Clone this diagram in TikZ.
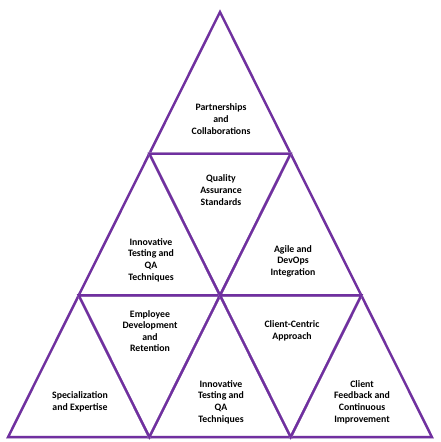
\documentclass[tikz,border=0pt]{standalone}
\usepackage{fontspec}
\setmainfont{Carlito}
\usetikzlibrary{calc}
\definecolor{tripurple}{HTML}{7030A0}

\begin{document}
\begin{tikzpicture}[
    x=1pt, y=-1pt,
    tri/.style={
        draw=tripurple,
        line width=2.4pt,
        line join=miter
    },
    trishadow/.style={
        draw=black!15,
        line width=2.4pt,
        xshift=1.6pt,
        yshift=-1.6pt
    },
    lbl/.style={
        font=\fontsize{9.8}{11.6}\selectfont\bfseries,
        align=center,
        inner sep=0pt
    }
]
\useasboundingbox (0,0) rectangle (440,442);

% Grid vertices: row r, position i
\foreach \r in {0,...,3} {
    \foreach \i in {0,...,\r} {
        \coordinate (v-\r-\i) at ({220+(\i-\r/2)*141.3}, {12+\r*141.7});
    }
}

% Upward triangles
\foreach \r in {0,1,2} {
    \pgfmathtruncatemacro{\rn}{\r+1}
    \foreach \i in {0,...,\r} {
        \pgfmathtruncatemacro{\in}{\i+1}
        \draw[trishadow] (v-\r-\i) -- (v-\rn-\i) -- (v-\rn-\in) -- cycle;
        \draw[tri] (v-\r-\i) -- (v-\rn-\i) -- (v-\rn-\in) -- cycle;
    }
}

% Downward triangles
\foreach \r in {1,2} {
    \pgfmathtruncatemacro{\rn}{\r+1}
    \pgfmathtruncatemacro{\rl}{\r-1}
    \foreach \i in {0,...,\rl} {
        \pgfmathtruncatemacro{\in}{\i+1}
        \draw[trishadow] (v-\r-\i) -- (v-\r-\in) -- (v-\rn-\in) -- cycle;
        \draw[tri] (v-\r-\i) -- (v-\r-\in) -- (v-\rn-\in) -- cycle;
    }
}

% Labels
\node[lbl] (partner) at (221,119) {Partnerships\\and\\Collaborations};
\node[lbl] (quality) at (221,190) {Quality\\Assurance\\Standards};
\node[lbl] (innovtop) at (151,260) {Innovative\\Testing and\\QA\\Techniques};
\node[lbl] (agile) at (293,261) {Agile and\\DevOps\\Integration};
\node[lbl] (employee) at (150,331) {Employee\\Development\\and\\Retention};
\node[lbl] (client) at (292,331) {Client-Centric\\Approach};
\node[lbl] (special) at (80,402) {Specialization\\and Expertise};
\node[lbl] (innovbot) at (221,402) {Innovative\\Testing and\\QA\\Techniques};
\node[lbl] (feedback) at (362,402) {Client\\Feedback and\\Continuous\\Improvement};

\end{tikzpicture}
\end{document}
